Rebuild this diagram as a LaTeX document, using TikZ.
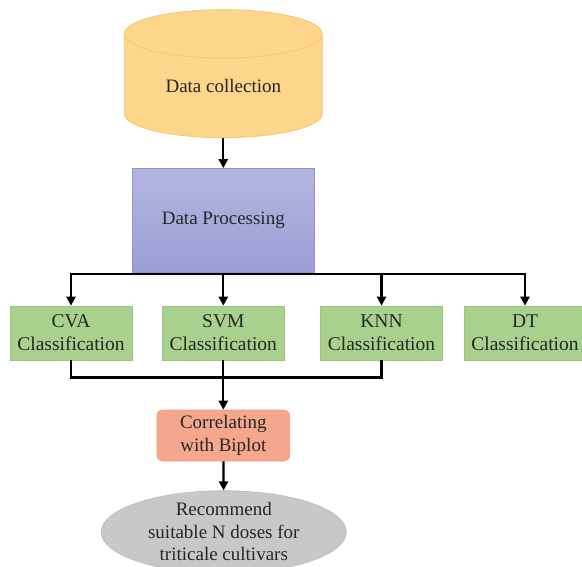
\documentclass[tikz,border=0pt]{standalone}
\usepackage{fontspec}
\setmainfont{Liberation Serif}
\usetikzlibrary{shapes.geometric,arrows.meta}

\definecolor{dbfill}{HTML}{FDD68B}
\definecolor{dbline}{HTML}{F3C56E}
\definecolor{proctop}{HTML}{B4B6DF}
\definecolor{procbot}{HTML}{9B9DD5}
\definecolor{procline}{HTML}{9092CB}
\definecolor{clsfill}{HTML}{A9D18E}
\definecolor{clsline}{HTML}{9CC680}
\definecolor{corrfill}{HTML}{F5A78D}
\definecolor{corrline}{HTML}{EE9E83}
\definecolor{recfill}{HTML}{C9C7C7}
\definecolor{recline}{HTML}{B8B6B6}
\definecolor{txt}{HTML}{262626}

\tikzset{
	flow/.style={line width=2.2pt, draw=black},
	>={Triangle[length=9pt,width=9pt]},
	dbase/.style={cylinder, shape border rotate=90, aspect=0.42, draw=dbline, fill=dbfill, line width=0.8pt, minimum width=198pt, minimum height=128pt, inner sep=0pt},
	procbox/.style={rectangle, draw=procline, top color=proctop, bottom color=procbot, line width=0.6pt, minimum width=182pt, minimum height=104pt},
	clsbox/.style={rectangle, draw=clsline, fill=clsfill, line width=0.6pt, minimum width=122pt, minimum height=54pt, inner sep=0pt, align=center, font=\fontsize{19.5}{23}\selectfont},
	corrbox/.style={rectangle, rounded corners=6pt, draw=corrline, fill=corrfill, line width=0.6pt, minimum width=133pt, minimum height=51pt, inner sep=0pt, align=center},
	recell/.style={ellipse, draw=recline, fill=recfill, line width=0.6pt, minimum width=245pt, minimum height=78pt, inner sep=0pt, align=center},
}

\begin{document}
\begin{tikzpicture}[x=1pt, y=-1pt, font=\fontsize{19}{22.5}\selectfont, text=txt]
	\useasboundingbox (0,0) rectangle (582,567);

	\node	(store) at (223.3,86) [dbase] {Data collection};
	\node	(proc) at (223.3,220.5) [procbox] {Data Processing};
	\node	(cva) at (71,333) [clsbox] {CVA\\Classification};
	\node	(svm) at (223.3,333) [clsbox] {SVM\\Classification};
	\node	(knn) at (381.5,333) [clsbox] {KNN\\Classification};
	\node	(dt) at (525,333) [clsbox] {DT\\Classification};
	\node	(corr) at (223.3,435.5) [corrbox] {Correlating\\with Biplot};
	\node	(rec) at (223.8,532) [recell] {Recommend\\suitable N doses for\\triticale cultivars};
	\coordinate (split) at (223.3,274);
	\coordinate (merge) at (223.3,377.5);

	\draw[flow]
	(store) edge[->] (proc)
	(proc) edge (split)
	(corr) edge[->] (rec)
	;
	\draw[flow,->] (split) -| (cva);
	\draw[flow,->] (split) -- (svm);
	\draw[flow,->] (split) -| (knn);
	\draw[flow,->] (split) -| (dt);
	\draw[flow] (cva) |- (merge);
	\draw[flow] (knn) |- (merge);
	\draw[flow] (svm) -- (merge);
	\draw[flow,->] (merge) -- (corr);
\end{tikzpicture}
\end{document}
